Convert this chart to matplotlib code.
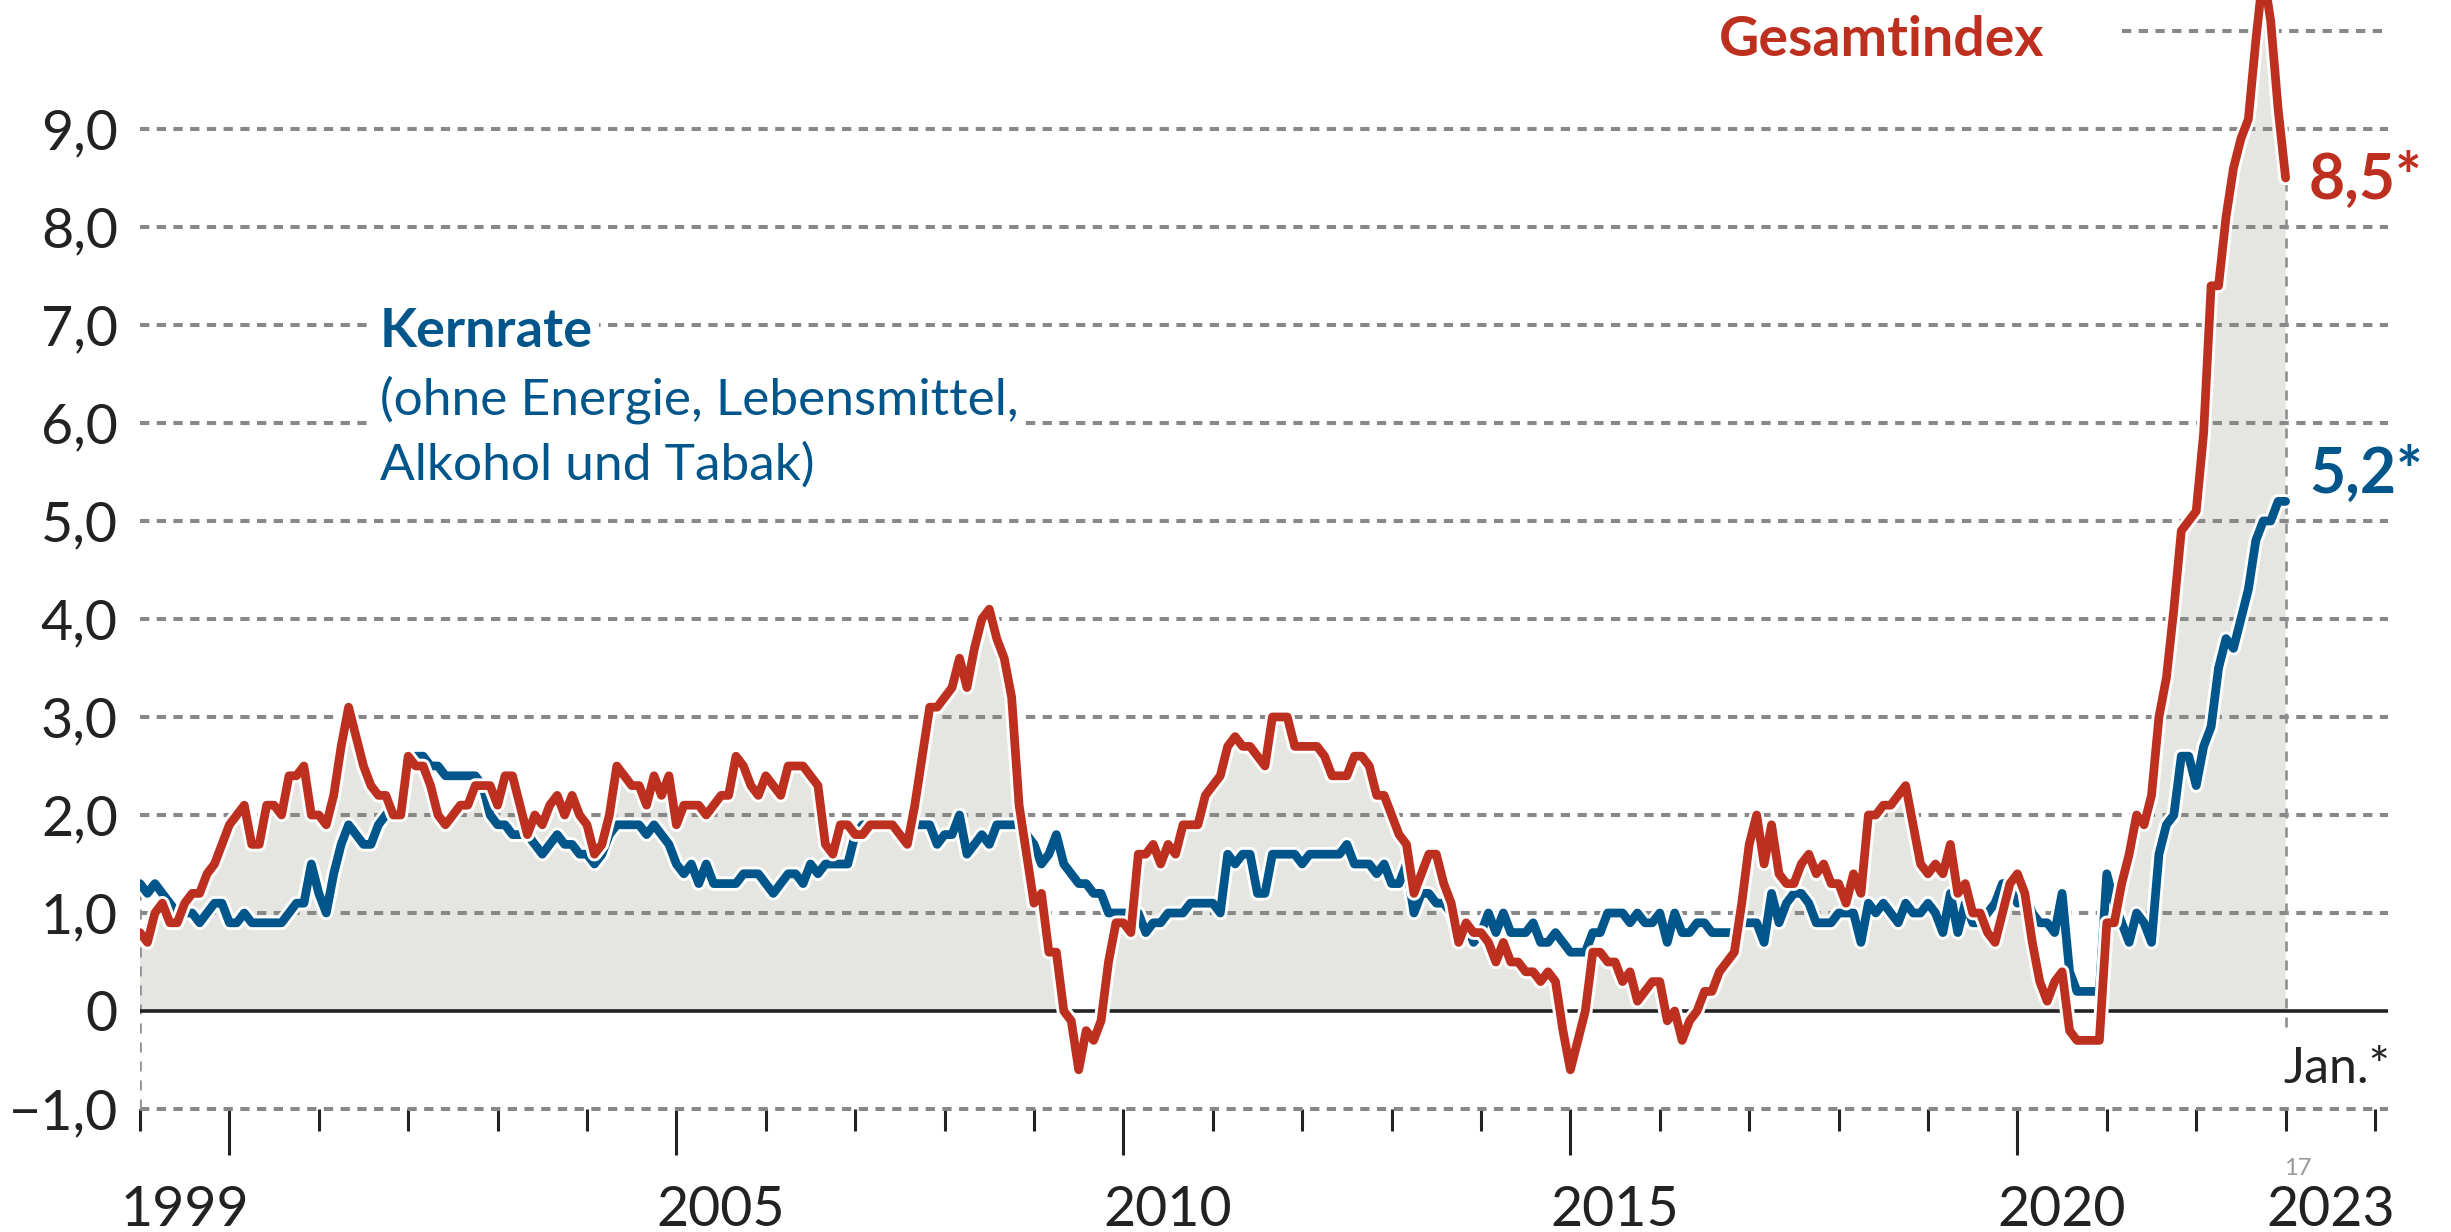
import numpy as np
import matplotlib.pyplot as plt
import matplotlib.patheffects as pe

plt.rcParams['font.family'] = ['Lato', 'DejaVu Sans']

RED = "#bd3020"
BLUE = "#00558a"
FILL = "#e5e6e1"
GRID = "#888888"
DARK = "#222222"

# monthly values, Jan 1999 .. Jan 2023 (one row per year)
start_year = 1999
gesamtindex = [
    0.8, 0.7, 1.0, 1.1, 0.9, 0.9, 1.1, 1.2, 1.2, 1.4, 1.5, 1.7,
    1.9, 2.0, 2.1, 1.7, 1.7, 2.1, 2.1, 2.0, 2.4, 2.4, 2.5, 2.0,
    2.0, 1.9, 2.2, 2.7, 3.1, 2.8, 2.5, 2.3, 2.2, 2.2, 2.0, 2.0,
    2.6, 2.5, 2.5, 2.3, 2.0, 1.9, 2.0, 2.1, 2.1, 2.3, 2.3, 2.3,
    2.1, 2.4, 2.4, 2.1, 1.8, 2.0, 1.9, 2.1, 2.2, 2.0, 2.2, 2.0,
    1.9, 1.6, 1.7, 2.0, 2.5, 2.4, 2.3, 2.3, 2.1, 2.4, 2.2, 2.4,
    1.9, 2.1, 2.1, 2.1, 2.0, 2.1, 2.2, 2.2, 2.6, 2.5, 2.3, 2.2,
    2.4, 2.3, 2.2, 2.5, 2.5, 2.5, 2.4, 2.3, 1.7, 1.6, 1.9, 1.9,
    1.8, 1.8, 1.9, 1.9, 1.9, 1.9, 1.8, 1.7, 2.1, 2.6, 3.1, 3.1,
    3.2, 3.3, 3.6, 3.3, 3.7, 4.0, 4.1, 3.8, 3.6, 3.2, 2.1, 1.6,
    1.1, 1.2, 0.6, 0.6, 0.0, -0.1, -0.6, -0.2, -0.3, -0.1, 0.5, 0.9,
    0.9, 0.8, 1.6, 1.6, 1.7, 1.5, 1.7, 1.6, 1.9, 1.9, 1.9, 2.2,
    2.3, 2.4, 2.7, 2.8, 2.7, 2.7, 2.6, 2.5, 3.0, 3.0, 3.0, 2.7,
    2.7, 2.7, 2.7, 2.6, 2.4, 2.4, 2.4, 2.6, 2.6, 2.5, 2.2, 2.2,
    2.0, 1.8, 1.7, 1.2, 1.4, 1.6, 1.6, 1.3, 1.1, 0.7, 0.9, 0.8,
    0.8, 0.7, 0.5, 0.7, 0.5, 0.5, 0.4, 0.4, 0.3, 0.4, 0.3, -0.2,
    -0.6, -0.3, 0.0, 0.6, 0.6, 0.5, 0.5, 0.3, 0.4, 0.1, 0.2, 0.3,
    0.3, -0.1, 0.0, -0.3, -0.1, 0.0, 0.2, 0.2, 0.4, 0.5, 0.6, 1.1,
    1.7, 2.0, 1.5, 1.9, 1.4, 1.3, 1.3, 1.5, 1.6, 1.4, 1.5, 1.3,
    1.3, 1.1, 1.4, 1.2, 2.0, 2.0, 2.1, 2.1, 2.2, 2.3, 1.9, 1.5,
    1.4, 1.5, 1.4, 1.7, 1.2, 1.3, 1.0, 1.0, 0.8, 0.7, 1.0, 1.3,
    1.4, 1.2, 0.7, 0.3, 0.1, 0.3, 0.4, -0.2, -0.3, -0.3, -0.3, -0.3,
    0.9, 0.9, 1.3, 1.6, 2.0, 1.9, 2.2, 3.0, 3.4, 4.1, 4.9, 5.0,
    5.1, 5.9, 7.4, 7.4, 8.1, 8.6, 8.9, 9.1, 9.9, 10.6, 10.1, 9.2,
    8.5,
]
kernrate = [
    1.3, 1.2, 1.3, 1.2, 1.1, 1.0, 1.0, 1.0, 0.9, 1.0, 1.1, 1.1,
    0.9, 0.9, 1.0, 0.9, 0.9, 0.9, 0.9, 0.9, 1.0, 1.1, 1.1, 1.5,
    1.2, 1.0, 1.4, 1.7, 1.9, 1.8, 1.7, 1.7, 1.9, 2.0, 2.1, 2.1,
    2.5, 2.6, 2.6, 2.5, 2.5, 2.4, 2.4, 2.4, 2.4, 2.4, 2.3, 2.0,
    1.9, 1.9, 1.8, 1.8, 1.8, 1.7, 1.6, 1.7, 1.8, 1.7, 1.7, 1.6,
    1.6, 1.5, 1.6, 1.8, 1.9, 1.9, 1.9, 1.9, 1.8, 1.9, 1.8, 1.7,
    1.5, 1.4, 1.5, 1.3, 1.5, 1.3, 1.3, 1.3, 1.3, 1.4, 1.4, 1.4,
    1.3, 1.2, 1.3, 1.4, 1.4, 1.3, 1.5, 1.4, 1.5, 1.5, 1.5, 1.5,
    1.8, 1.9, 1.9, 1.9, 1.9, 1.9, 1.8, 1.8, 1.9, 1.9, 1.9, 1.7,
    1.8, 1.8, 2.0, 1.6, 1.7, 1.8, 1.7, 1.9, 1.9, 1.9, 1.9, 1.8,
    1.7, 1.5, 1.6, 1.8, 1.5, 1.4, 1.3, 1.3, 1.2, 1.2, 1.0, 1.0,
    1.0, 1.0, 1.0, 0.8, 0.9, 0.9, 1.0, 1.0, 1.0, 1.1, 1.1, 1.1,
    1.1, 1.0, 1.6, 1.5, 1.6, 1.6, 1.2, 1.2, 1.6, 1.6, 1.6, 1.6,
    1.5, 1.6, 1.6, 1.6, 1.6, 1.6, 1.7, 1.5, 1.5, 1.5, 1.4, 1.5,
    1.3, 1.3, 1.5, 1.0, 1.2, 1.2, 1.1, 1.1, 1.0, 0.8, 0.9, 0.7,
    0.8, 1.0, 0.8, 1.0, 0.8, 0.8, 0.8, 0.9, 0.7, 0.7, 0.8, 0.7,
    0.6, 0.6, 0.6, 0.8, 0.8, 1.0, 1.0, 1.0, 0.9, 1.0, 0.9, 0.9,
    1.0, 0.7, 1.0, 0.8, 0.8, 0.9, 0.9, 0.8, 0.8, 0.8, 0.8, 0.9,
    0.9, 0.9, 0.7, 1.2, 0.9, 1.1, 1.2, 1.2, 1.1, 0.9, 0.9, 0.9,
    1.0, 1.0, 1.0, 0.7, 1.1, 1.0, 1.1, 1.0, 0.9, 1.1, 1.0, 1.0,
    1.1, 1.0, 0.8, 1.2, 0.8, 1.1, 0.9, 0.9, 1.0, 1.1, 1.3, 1.3,
    1.1, 1.2, 1.0, 0.9, 0.9, 0.8, 1.2, 0.4, 0.2, 0.2, 0.2, 0.2,
    1.4, 1.1, 0.9, 0.7, 1.0, 0.9, 0.7, 1.6, 1.9, 2.0, 2.6, 2.6,
    2.3, 2.7, 2.9, 3.5, 3.8, 3.7, 4.0, 4.3, 4.8, 5.0, 5.0, 5.2,
    5.2,
]
y_ticks = [-1, 0, 1, 2, 3, 4, 5, 6, 7, 8, 9]
y_tick_labels = ["\u22121,0", "0", "1,0", "2,0", "3,0", "4,0", "5,0",
                 "6,0", "7,0", "8,0", "9,0"]
year_labels = ["1999", "2005", "2010", "2015", "2020", "2023"]
kern_text = ["(ohne Energie, Lebensmittel,", "Alkohol und Tabak)"]

red = np.array(gesamtindex)
blue = np.array(kernrate)
x = start_year + np.arange(len(red)) / 12

fig = plt.figure(figsize=(24.51, 12.32), dpi=100)
ax = fig.add_axes([140 / 2451, 123 / 1232, 2235 / 2451, 1109 / 1232])
ax.set_xlim(1999, 2024)
ax.set_ylim(-1, 10.316)
for s in ax.spines.values():
    s.set_visible(False)

ax.fill_between(x, 0, red, where=red > 0, interpolate=True,
                color=FILL, lw=0, zorder=1)

# dashed grid
grid_end = 2024.14
dash = (0, (2.3, 1.85))
ax.hlines([t for t in y_ticks if t != 0], 1999, grid_end, colors=GRID,
          lw=2.9, linestyles=dash, zorder=2, clip_on=False)
ax.hlines(10, 2021.17, grid_end, colors=GRID, lw=2.9, linestyles=dash,
          zorder=2, clip_on=False)
ax.hlines(0, 1999, grid_end, colors=DARK, lw=2.6, zorder=3, clip_on=False)

# vertical dashed markers at start and end of series
vdash = (0, (3.8, 3.4))
ax.vlines(x[0], -1, max(red[0], blue[0]), colors="#8f8f8f", lw=1.9,
          linestyles=vdash, zorder=2)
ax.vlines(x[-1], -0.16, red[-1], colors="#8f8f8f", lw=1.9,
          linestyles=vdash, zorder=2)

halo = [pe.Stroke(linewidth=10.5, foreground="white"), pe.Normal()]
ax.plot(x, blue, color=BLUE, lw=6.3, solid_joinstyle="round",
        solid_capstyle="round", path_effects=halo, zorder=4)
ax.plot(x, red, color=RED, lw=6.3, solid_joinstyle="round",
        solid_capstyle="round", path_effects=halo, zorder=5)

# axes ticks
years = np.arange(1999, 2025)
ax.set_xticks([y for y in years if y % 5 == 0])
ax.set_xticks([y for y in years if y % 5], minor=True)
ax.tick_params(axis="x", which="major", length=33, width=2.2, color=DARK,
               labelbottom=False)
ax.tick_params(axis="x", which="minor", length=16, width=2.2, color=DARK)
ax.set_yticks(y_ticks, y_tick_labels)
ax.tick_params(axis="y", length=0, pad=16, labelsize=40, labelcolor=DARK)

for lbl in year_labels:
    ax.text(int(lbl) + 0.5, -2.19, lbl, ha="center", va="baseline",
            fontsize=40, color=DARK, clip_on=False)

# labels
ax.text(2016.66, 9.74, "Gesamtindex", color=RED, fontsize=40,
        fontweight="bold", ha="left", va="baseline", zorder=6)
ax.text(2023.26, 8.29, "8,5*", color=RED, fontsize=45, fontweight="bold",
        ha="left", va="baseline", zorder=6, clip_on=False)
ax.text(2023.26, 5.29, "5,2*", color=BLUE, fontsize=45, fontweight="bold",
        ha="left", va="baseline", zorder=6, clip_on=False)

box = dict(boxstyle="square,pad=0.12", fc="white", ec="none")
ax.text(2001.68, 6.78, "Kernrate", color=BLUE, fontsize=39,
        fontweight="bold", ha="left", va="baseline", bbox=box, zorder=6)
for i, line in enumerate(kern_text):
    ax.text(2001.68, 6.09 - 0.67 * i, line, color=BLUE, fontsize=37,
            ha="left", va="baseline", bbox=box, zorder=6)

ax.text(2022.98, -0.73, "Jan.*", color=DARK, fontsize=36, ha="left",
        va="baseline", zorder=6, clip_on=False)
ax.text(2022.98, -1.67, "17", color="#999999", fontsize=17, ha="left",
        va="baseline", zorder=6, clip_on=False)

fig.savefig("out.png", dpi=100)
